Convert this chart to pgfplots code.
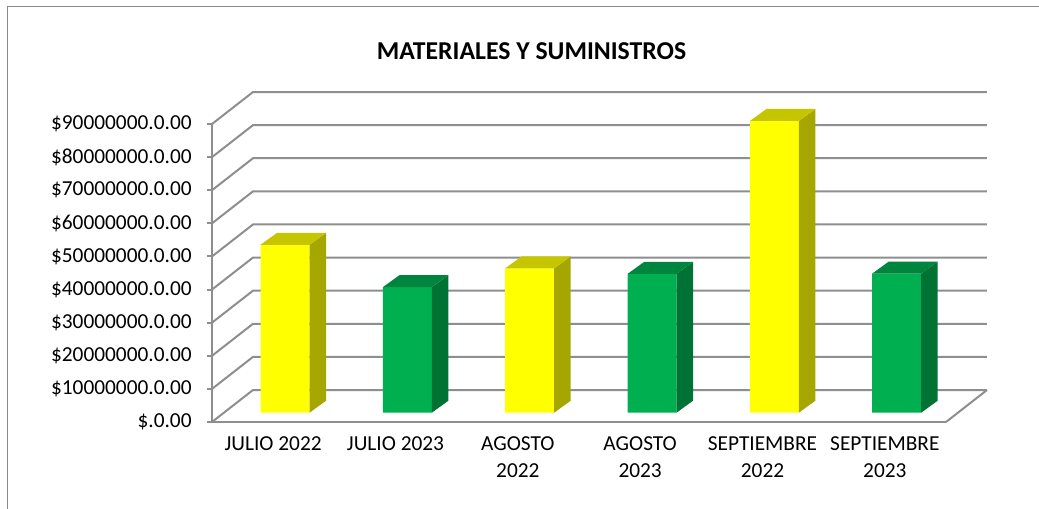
\documentclass[border=0pt]{standalone}
\usepackage{pgfplots}
\usepackage{pgfplotstable}
\pgfplotsset{compat=1.18}
\usepackage{fontspec}
\setmainfont{Carlito}
\definecolor{yfront}{HTML}{FFFF00}
\definecolor{yside}{HTML}{A6A600}
\definecolor{ytop}{HTML}{C6C600}
\definecolor{gfront}{HTML}{00B050}
\definecolor{gside}{HTML}{007233}
\definecolor{gtop}{HTML}{00853E}
\definecolor{gridc}{HTML}{8E8E8E}
\definecolor{framec}{HTML}{8A8A8A}
% values in millions
\pgfplotstableread{
x v
0.5 50.7
2.5 43.6
4.5 88.1
}\yeartwo
\pgfplotstableread{
x v
1.5 37.9
3.5 41.9
5.5 42.0
}\yearthree
\begin{document}
\begin{tikzpicture}
\path[use as bounding box] (0,0) rectangle (779.25pt,381pt);
\clip (0,0) rectangle (779.25pt,381pt);
\fill[white] (0,0) rectangle (779.25pt,381pt);
\draw[framec, line width=1.1pt] (5.6pt,-10pt) rectangle (800pt,376.1pt);
\node[font=\fontsize{19.3}{23}\selectfont\bfseries] at (398.6pt,342.5pt) {MATERIALES Y SUMINISTROS};
\begin{axis}[
  at={(159pt,64.5pt)}, anchor=south west,
  scale only axis, width=550.5pt, height=223.5pt,
  xmin=0, xmax=6, ymin=0, ymax=90,
  clip=false,
  axis x line*=bottom, axis y line*=left,
  axis line style={gridc, line width=1.5pt, -},
  every tick/.style={gridc, line width=1.5pt},
  tick align=outside,
  ytick={0,10,...,90},
  yticklabels={\$.0.00,\$10000000.0.00,\$20000000.0.00,\$30000000.0.00,\$40000000.0.00,\$50000000.0.00,\$60000000.0.00,\$70000000.0.00,\$80000000.0.00,\$90000000.0.00},
  major tick length=3.75pt,
  xtick={0.5,1.5,2.5,3.5,4.5,5.5},
  xticklabels={JULIO 2022, JULIO 2023, AGOSTO\\2022, AGOSTO\\2023, SEPTIEMBRE\\2022, SEPTIEMBRE\\2023},
  x tick style={draw=none},
  minor xtick={0,1,...,6},
  minor x tick style={gridc, line width=1.5pt},
  minor tick length=4.5pt,
  xticklabel style={font=\fontsize{16}{20}\selectfont, align=center, anchor=north, yshift=-4pt},
  yticklabel style={font=\fontsize{16}{19}\selectfont, anchor=east, xshift=-8pt},
]
\pgfplotsinvokeforeach{0,10,20,30,40,50,60,70,80,90}{
  \draw[gridc, line width=1.5pt] (axis cs:0,#1) -- (axis cs:0.335,#1+9.66) -- (axis cs:6.335,#1+9.66);
}
\draw[gridc, line width=1.5pt] (axis cs:6,0) -- (axis cs:6.335,9.66);
% front faces
\addplot[ybar, bar width=36.75pt, bar shift=8.9pt, yshift=7pt, fill=yfront, draw=none] table[x=x,y=v] {\yeartwo};
\addplot[ybar, bar width=36.75pt, bar shift=8.9pt, yshift=7pt, fill=gfront, draw=none] table[x=x,y=v] {\yearthree};
% side and top faces
\addplot[scatter, only marks, mark=*, mark size=0pt, draw=none, fill=none,
  visualization depends on={rawy \as \vv},
  scatter/@pre marker code/.code={
    \pgfmathsetmacro\hh{\vv*2.48333}
    \fill[yside] (27.275pt,7pt) -- ++(12.4pt,9pt) -- ++(0pt,-\hh pt) -- ++(-12.4pt,-9pt) -- cycle;
    \fill[ytop] (-9.475pt,7pt) -- (27.275pt,7pt) -- ++(12.4pt,9pt) -- ++(-36.75pt,0pt) -- cycle;
  },
  scatter/@post marker code/.code={}
] table[x=x,y=v] {\yeartwo};
\addplot[scatter, only marks, mark=*, mark size=0pt, draw=none, fill=none,
  visualization depends on={rawy \as \vv},
  scatter/@pre marker code/.code={
    \pgfmathsetmacro\hh{\vv*2.48333}
    \fill[gside] (27.275pt,7pt) -- ++(12.4pt,9pt) -- ++(0pt,-\hh pt) -- ++(-12.4pt,-9pt) -- cycle;
    \fill[gtop] (-9.475pt,7pt) -- (27.275pt,7pt) -- ++(12.4pt,9pt) -- ++(-36.75pt,0pt) -- cycle;
  },
  scatter/@post marker code/.code={}
] table[x=x,y=v] {\yearthree};
\end{axis}
\end{tikzpicture}
\end{document}
